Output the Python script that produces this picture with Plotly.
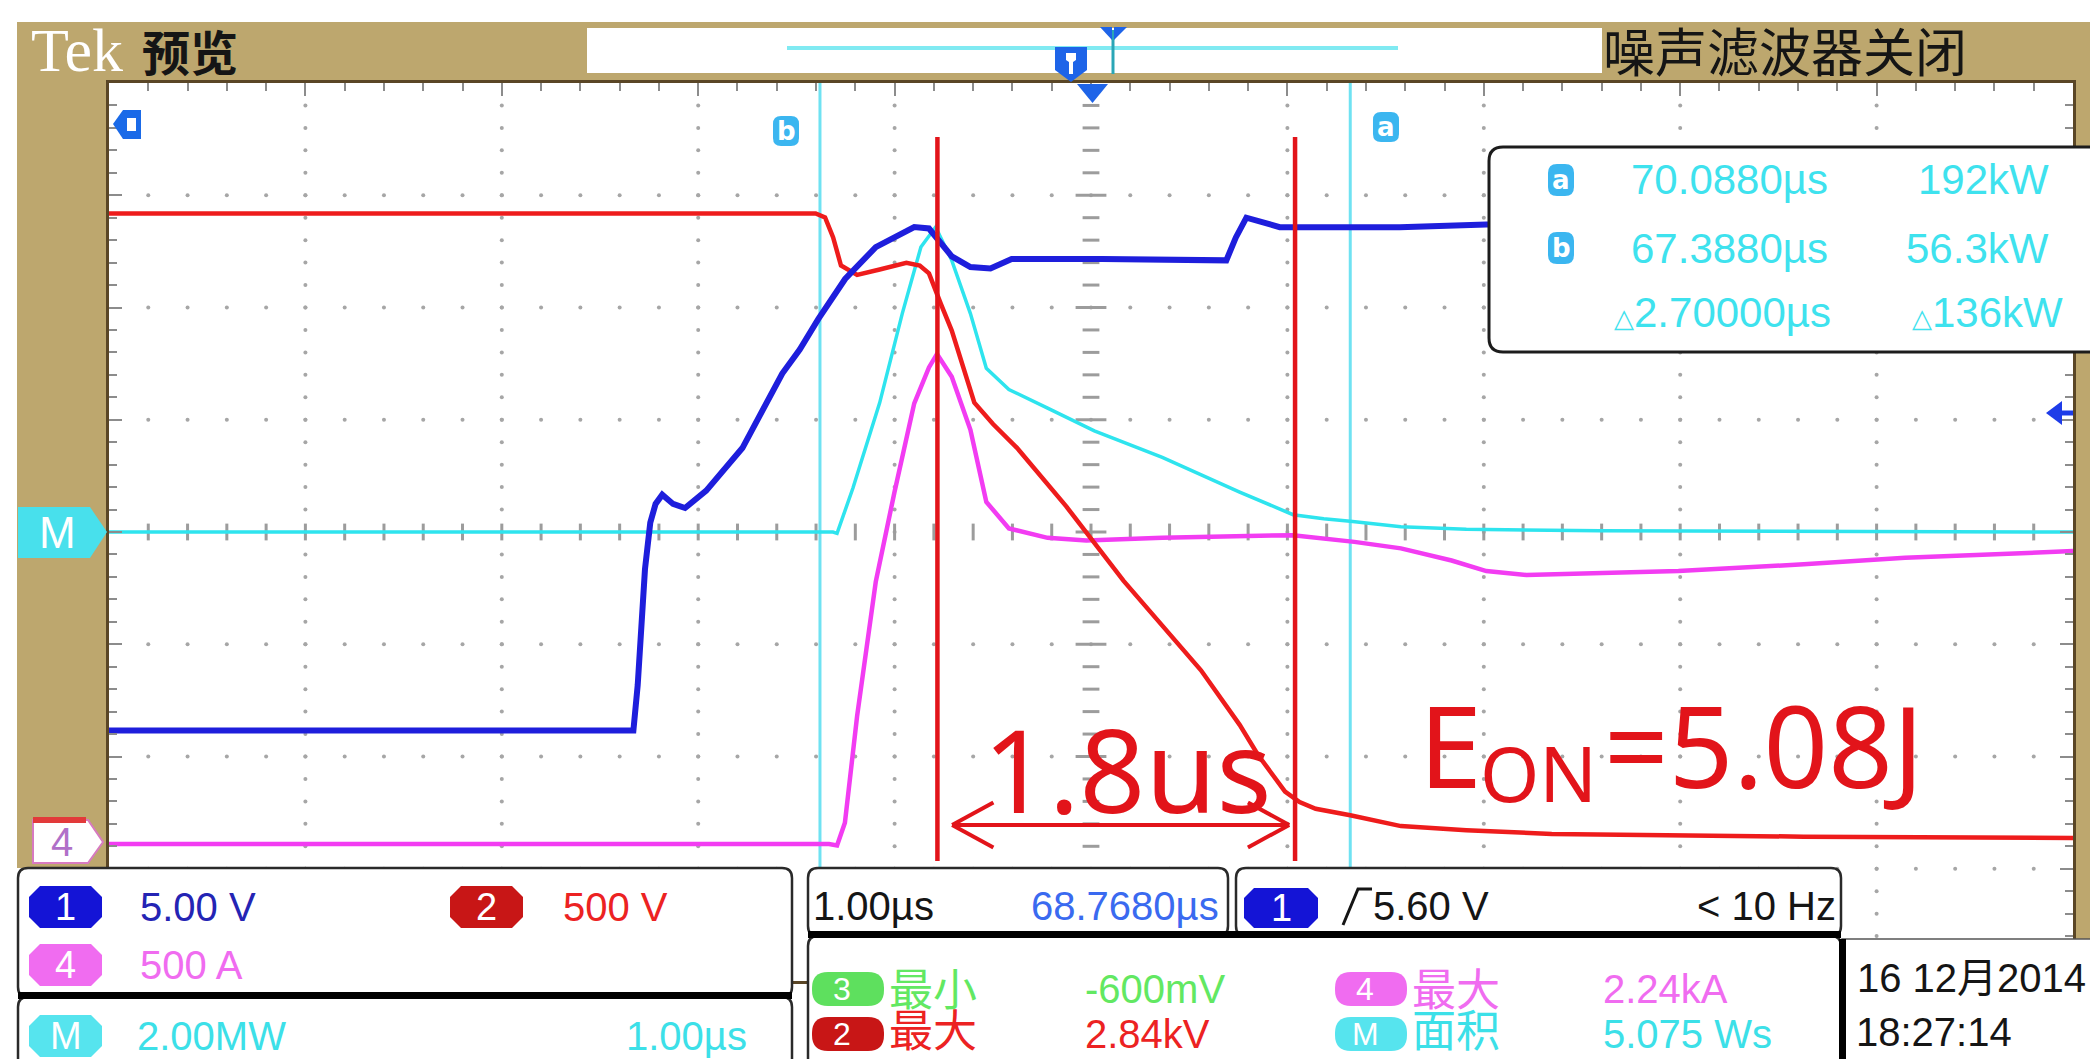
import plotly.graph_objects as go

h_position_us = 68.768      # horizontal position (screen centre)
time_per_div_us = 1.0
cursor_a_t = 70.088
cursor_b_t = 67.388

# CH1 gate voltage (V), 5 V/div
ch1_t = [63.768, 66.402, 66.438, 66.460, 66.477, 66.497, 66.524, 66.551, 66.585, 66.640,
         66.701, 66.809, 66.993, 67.196, 67.285, 67.380, 67.516, 67.672, 67.868, 67.943,
         68.059, 68.154, 68.256, 68.364, 68.826, 69.457, 69.505, 69.559, 69.729, 70.340,
         70.781, 73.768]
ch1_v = [-8.84, -8.84, -8.84, -6.82, -4.74, -1.66, 0.42, 1.25, 1.66, 1.25,
         1.07, 1.84, 3.74, 7.06, 8.13, 9.49, 11.27, 12.69, 13.58, 13.52,
         12.28, 11.80, 11.74, 12.16, 12.16, 12.10, 13.11, 14.00, 13.58, 13.58,
         13.70, 13.70]

# CH2 collector-emitter voltage (V), 500 V/div
ch2_t = [63.768, 67.366, 67.414, 67.455, 67.495, 67.577, 67.692, 67.828, 67.896, 67.943,
         68.004, 68.059, 68.174, 68.269, 68.391, 68.642, 68.934, 69.131, 69.328, 69.525,
         69.620, 69.756, 69.830, 69.912, 70.088, 70.346, 70.679, 71.114, 72.397, 73.768]
ch2_v = [2794, 2794, 2776, 2687, 2562, 2520, 2544, 2574, 2562, 2527,
         2390, 2272, 1951, 1856, 1750, 1489, 1157, 955, 759, 516,
         380, 219, 172, 142, 113, 65, 47, 30, 18, 12]

# CH4 collector current (A), 500 A/div
ch4_t = [63.768, 67.434, 67.475, 67.515, 67.577, 67.672, 67.767, 67.868, 67.943, 67.984,
         68.059, 68.154, 68.235, 68.350, 68.547, 68.744, 69.131, 69.797, 70.109, 70.346,
         70.604, 70.781, 70.985, 71.759, 72.397, 72.913, 73.768]
ch4_a = [0, 0, -6, 95, 569, 1168, 1566, 1963, 2123, 2183,
         2082, 1845, 1524, 1406, 1364, 1352, 1364, 1376, 1346, 1317,
         1263, 1216, 1198, 1216, 1246, 1275, 1305]

# M = CH2 x CH4 power (kW), 2.00 MW/div
m_t = [63.768, 67.454, 67.475, 67.556, 67.692, 67.807, 67.902, 67.964, 67.977, 68.059,
       68.154, 68.235, 68.350, 68.547, 68.785, 69.131, 69.525, 69.797, 69.953, 70.088,
       70.238, 70.346, 70.679, 71.358, 73.768]
m_kw = [0, 0, -24, 783, 2301, 3891, 5077, 5386, 5433, 4840,
        3891, 2918, 2539, 2206, 1803, 1329, 712, 308, 237, 192,
        142, 95, 47, 24, 0]

eon_window_t = [67.986, 69.807]   # red marker lines (1.8 us window)

# channel scales / ground positions (divisions from centre)
ch1_scale, ch1_gnd = 5.0, 0.0
ch2_scale, ch2_gnd = 500.0, -2.75
ch4_scale, ch4_gnd = 500.0, -2.78
m_scale, m_gnd = 2000.0, 0.0

# readout texts
readout_rows = [("a", "70.0880µs", "192kW"), ("b", "67.3880µs", "56.3kW"), ("", "2.70000µs", "136kW")]
ch_labels = [("1", "5.00 V"), ("2", "500 V"), ("4", "500 A"), ("M", "2.00MW")]
meas_rows = [("3", "最小", "-600mV", "4", "最大", "2.24kA"), ("2", "最大", "2.84kV", "M", "面积", "5.075 Ws")]

# ---------------- geometry ----------------
W, H = 2090, 1059
PL, PR, PT, PB = 109, 2073, 83, 981
t0 = h_position_us - 5 * time_per_div_us
t1 = h_position_us + 5 * time_per_div_us

TEK = "Liberation Sans, Arial, sans-serif"
CJK = "Noto Sans CJK SC, sans-serif"
TAN = "#BDA76E"
C_RED, C_BLUE, C_MAG, C_CYAN = "#EE1C1C", "#1E1EDC", "#F23CF2", "#2EE4EE"


def X(px):
    return (px - PL) / (PR - PL)


def Y(py):
    return 1 - (py - PT) / (PB - PT)


def pp(x, y):
    return f"{X(x):.5f},{Y(y):.5f}"


def poly(pts, close=True):
    s = "M" + " L".join(pp(x, y) for x, y in pts)
    return s + (" Z" if close else "")


def rrect(x0, y0, x1, y1, r):
    return (f"M{pp(x0 + r, y0)} L{pp(x1 - r, y0)} Q{pp(x1, y0)} {pp(x1, y0 + r)} L{pp(x1, y1 - r)} "
            f"Q{pp(x1, y1)} {pp(x1 - r, y1)} L{pp(x0 + r, y1)} Q{pp(x0, y1)} {pp(x0, y1 - r)} "
            f"L{pp(x0, y0 + r)} Q{pp(x0, y0)} {pp(x0 + r, y0)} Z")


def octa(x0, y0, x1, y1, c):
    return poly([(x0 + c, y0), (x1 - c, y0), (x1, y0 + c), (x1, y1 - c), (x1 - c, y1),
                 (x0 + c, y1), (x0, y1 - c), (x0, y0 + c)])


shapes, annots = [], []


def shp(path, fill=None, lc=None, lw=0, layer="above"):
    shapes.append(dict(type="path", xref="paper", yref="paper", path=path,
                       fillcolor=fill or "rgba(0,0,0,0)",
                       line=dict(color=lc or "rgba(0,0,0,0)", width=lw), layer=layer))


def rect(x0, y0, x1, y1, fill, lc=None, lw=0, layer="above"):
    shapes.append(dict(type="rect", xref="paper", yref="paper", x0=X(x0), x1=X(x1), y0=Y(y1), y1=Y(y0),
                       fillcolor=fill, line=dict(color=lc or "rgba(0,0,0,0)", width=lw), layer=layer))


def txt(px, py, text, size, color, family=TEK, anchor="left", weight="normal"):
    annots.append(dict(xref="paper", yref="paper", x=X(px), y=Y(py), text=text, showarrow=False,
                       xanchor=anchor, yanchor="middle", borderpad=0,
                       font=dict(family=family, size=size, color=color, weight=weight)))


fig = go.Figure()

# ---------------- graticule ----------------
gx, gy = [], []
for k in range(1, 10):
    if k == 5:
        continue
    for j in range(-19, 20):
        gx.append(t0 + k * time_per_div_us)
        gy.append(j * 0.2)
for k in range(-3, 4):
    if k == 0:
        continue
    for j in range(1, 50):
        gx.append(t0 + j * 0.2 * time_per_div_us)
        gy.append(k)
fig.add_trace(go.Scatter(x=gx, y=gy, mode="markers", hoverinfo="skip",
                         marker=dict(size=4, color="#A6A6A6", line=dict(width=0))))
# centre axis ticks
cvx, cvy, cvx2, cvy2 = [], [], [], []
for j in range(-19, 20):
    (cvx2 if j % 5 == 0 else cvx).append(h_position_us)
    (cvy2 if j % 5 == 0 else cvy).append(j * 0.2)
fig.add_trace(go.Scatter(x=cvx, y=cvy, mode="markers", hoverinfo="skip",
                         marker=dict(symbol="line-ew", size=12, line=dict(width=3, color="#9C9C9C"))))
fig.add_trace(go.Scatter(x=cvx2, y=cvy2, mode="markers", hoverinfo="skip",
                         marker=dict(symbol="line-ew", size=22, line=dict(width=3, color="#9C9C9C"))))
chx, chy = [], []
for j in range(1, 50):
    chx.append(t0 + j * 0.2 * time_per_div_us)
    chy.append(0)
fig.add_trace(go.Scatter(x=chx, y=chy, mode="markers", hoverinfo="skip",
                         marker=dict(symbol="line-ns", size=12, line=dict(width=3, color="#9C9C9C"))))

# cursors
for ct in (cursor_b_t, cursor_a_t):
    fig.add_trace(go.Scatter(x=[ct, ct], y=[-4, 4], mode="lines", hoverinfo="skip",
                             line=dict(color="#6FE2F2", width=3)))

# ---------------- waveforms ----------------
def to_div(vals, scale, gnd):
    return [v / scale + gnd for v in vals]


fig.add_trace(go.Scatter(x=ch4_t, y=to_div(ch4_a, ch4_scale, ch4_gnd), mode="lines", name="CH4",
                         line=dict(color=C_MAG, width=4.5)))
fig.add_trace(go.Scatter(x=m_t, y=to_div(m_kw, m_scale, m_gnd), mode="lines", name="M",
                         line=dict(color=C_CYAN, width=3.5)))
fig.add_trace(go.Scatter(x=ch2_t, y=to_div(ch2_v, ch2_scale, ch2_gnd), mode="lines", name="CH2",
                         line=dict(color=C_RED, width=4.5)))
fig.add_trace(go.Scatter(x=ch1_t, y=to_div(ch1_v, ch1_scale, ch1_gnd), mode="lines", name="CH1",
                         line=dict(color=C_BLUE, width=6)))

# red E_on window markers and arrow
RED2 = "#E2141A"
for et in eon_window_t:
    shapes.append(dict(type="line", xref="x", yref="y", x0=et, x1=et, y0=-2.93, y1=3.52,
                       line=dict(color=RED2, width=4.5), layer="above"))
ay = -2.61
axl, axr = eon_window_t[0] + 0.075, eon_window_t[1] - 0.03
shapes.append(dict(type="line", xref="x", yref="y", x0=axl, x1=axr, y0=ay, y1=ay,
                   line=dict(color=RED2, width=4), layer="above"))
for tip, d in ((axl, 1), (axr, -1)):
    for s in (1, -1):
        shapes.append(dict(type="line", xref="x", yref="y", x0=tip, x1=tip + d * 0.21,
                           y0=ay, y1=ay + s * 0.2, line=dict(color=RED2, width=4), layer="above"))

# ---------------- frame / bezel ----------------
rect(17, 22, 2090, 81.5, TAN, layer="below")
rect(17, 22, 107.5, 868, TAN, layer="below")
rect(2074.5, 22, 2090, 940, TAN, layer="below")
rect(587, 28, 1602, 73, "white", layer="below")
shapes.append(dict(type="line", xref="paper", yref="paper", x0=X(787), x1=X(1398), y0=Y(48), y1=Y(48),
                   line=dict(color="#80EAF2", width=4), layer="above"))
# trigger markers at the top
shp(poly([(1055, 47), (1087, 47), (1087, 70), (1071, 82), (1055, 70)]), fill="#1E64E8")
shp(poly([(1066, 53), (1076, 53), (1076, 60), (1073, 62), (1073, 74), (1069, 74), (1069, 62), (1066, 60)]), fill="white")
shapes.append(dict(type="line", xref="paper", yref="paper", x0=X(1113), x1=X(1113), y0=Y(30), y1=Y(74),
                   line=dict(color="#2AA6B6", width=3), layer="above"))
shp(poly([(1100, 27), (1112, 27), (1112, 40)]), fill="#1E64E8")
shp(poly([(1114, 27), (1127, 27), (1114, 40)]), fill="#1E64E8")
shp(poly([(1077, 84), (1108, 84), (1092.5, 103)]), fill="#1E64E8")
# indicator top-left
shp(poly([(113, 124), (123, 110), (141, 110), (141, 139), (123, 139)]), fill="#1A6AE8")
shp(poly([(127, 118), (136, 118), (136, 131), (127, 131)]), fill="white")
# trigger level arrow (right)
shp(poly([(2046, 413), (2062, 401), (2062, 425)]), fill="#1E3CE8")
shapes.append(dict(type="line", xref="paper", yref="paper", x0=X(2058), x1=X(2073), y0=Y(413), y1=Y(413),
                   line=dict(color="#1E3CE8", width=5), layer="above"))
# M and 4 ground markers
shp(poly([(18, 507), (90, 507), (107, 532), (90, 558), (18, 558)]), fill="#48E0EC")
txt(57, 532, "M", 44, "white", anchor="center")
shp(poly([(33, 820), (88, 820), (103, 842), (88, 863), (33, 863)]), fill="white", lc="#D77AC0", lw=2)
rect(33, 817, 86, 823, "#E23A3A")
txt(62, 842, "4", 40, "#B070C8", anchor="center")

# cursor badges on graticule
for cx, cy, lab in ((786, 131, "b"), (1386, 127, "a")):
    shp(rrect(cx - 13, cy - 15, cx + 13, cy + 15, 8), fill="#3BB6F0")
    txt(cx, cy, f"<b>{lab}</b>", 26, "white", family="DejaVu Sans", anchor="center")

# top texts
txt(77, 50, "Tek", 62, "white", family="Liberation Serif", anchor="center")
txt(190, 50, "预览", 48, "#151515", family=CJK, anchor="center", weight="bold")
txt(1785, 50, "噪声滤波器关闭", 52, "#151515", family=CJK, anchor="center")

# cursor readout box
shp(rrect(1489, 147, 2120, 352, 14), fill="white", lc="#1C1C1C", lw=3)
RC = "#3EE2EE"
DELTA = "<span style='font-size:26px'>△</span>"
for i, (lab, tval, pval) in enumerate(readout_rows):
    ry = [180, 248, 312][i]
    if lab:
        shp(rrect(1548, ry - 16, 1574, ry + 16, 9), fill="#3BB6F0")
        txt(1561, ry, f"<b>{lab}</b>", 26, "white", family="DejaVu Sans", anchor="center")
        txt(1630, ry, tval, 42, RC)
        txt(2050, ry, pval, 42, RC, anchor="right")
    else:
        txt(1613, ry, DELTA + tval, 42, RC)
        txt(2064, ry, DELTA + pval, 42, RC, anchor="right")

# E_on annotation texts
txt(1127, 768, "1.8us", 115, RED2, family="Noto Sans", anchor="center")
txt(1418, 744, "E", 113, RED2, family="Noto Sans")
txt(1479, 772, "ON", 76, RED2, family="Noto Sans")
txt(1603, 744, "=5.08J", 113, RED2, family="Noto Sans")

# ---------------- bottom readout panels ----------------
PLINE = "#2A2A2A"
shp(rrect(18, 868, 792, 997, 10), fill="white", lc=PLINE, lw=2.5)
shp(rrect(18, 997, 792, 1090, 10), fill="white", lc=PLINE, lw=2.5)
rect(18, 992, 792, 999, "black")
shp(rrect(808, 868, 1228, 936, 10), fill="white", lc=PLINE, lw=2.5)
shp(rrect(1236, 868, 1841, 936, 10), fill="white", lc=PLINE, lw=2.5)
shp(rrect(808, 936, 1841, 1090, 10), fill="white", lc=PLINE, lw=2.5)
rect(808, 931, 1841, 938, "black")
rect(1842, 939, 2100, 1090, "white", lc="#555555", lw=1.5)
rect(1839, 939, 1846, 1090, "black")

BADGE = {"1": "#1414D6", "2": "#C81616", "4": "#F06CF0", "M": "#56E4EE", "3": "#5EE05E"}
TXTC = {"1": "#2424B4", "2": "#EC2222", "4": "#F06CF0", "M": "#3CE0E8", "3": "#62E862"}
pos_a = {"1": (29, 907, 139), "2": (450, 907, 562), "4": (29, 965, 139), "M": (29, 1036, 136)}
for lab, val in ch_labels:
    bx, by, tx = pos_a[lab]
    shp(octa(bx, by - 21, bx + 73, by + 21, 11), fill=BADGE[lab])
    txt(bx + 36.5, by, lab, 38, "white", anchor="center")
    txt(tx, by, val, 40, TXTC[lab])
txt(748, 1036, "1.00µs", 40, TXTC["M"], anchor="right")

# timebase panel
txt(812, 906, "1.00µs", 40, "#151515")
txt(1220, 906, "68.7680µs", 40, "#3A6AF0", anchor="right")
# trigger panel
shp(octa(1244, 888, 1318, 928, 10), fill=BADGE["1"])
txt(1281, 908, "1", 38, "white", anchor="center")
shp(poly([(1343, 925), (1358, 889), (1372, 889)], close=False), lc="#151515", lw=3)
txt(1372, 906, "5.60 V", 40, "#151515")
txt(1837, 906, "< 10 Hz", 40, "#151515", anchor="right")

# measurement panel
for i, row in enumerate(meas_rows):
    ry = [989, 1034][i]
    cjk_dy = [-2, -6][i]
    b1, n1, v1, b2, n2, v2 = row
    for bx, b, n, v, tx in ((812, b1, n1, v1, 1084), (1335, b2, n2, v2, 1602)):
        shp(rrect(bx, ry - 17, bx + 72, ry + 17, 16), fill=BADGE[b])
        txt(bx + 30, ry, b, 32, "white", anchor="center")
        txt(bx + 76, ry + cjk_dy, n, 44, TXTC[b], family=CJK)
        txt(tx, ry, v, 40, TXTC[b])

# date panel
txt(1856, 978, "16 12月2014", 40, "#151515", family=TEK + ", " + CJK)
txt(1855, 1032, "18:27:14", 40, "#151515")

fig.update_layout(
    width=W, height=H, autosize=False,
    margin=dict(l=PL, r=W - PR, t=PT, b=H - PB, pad=0),
    paper_bgcolor="white", plot_bgcolor="white", showlegend=False,
    shapes=shapes, annotations=annots,
)
fig.update_xaxes(range=[t0, t1], showgrid=False, zeroline=False, showticklabels=False,
                 ticks="inside", tick0=t0, dtick=time_per_div_us, ticklen=13, tickwidth=2,
                 tickcolor="#8C8C8C", minor=dict(ticks="inside", dtick=0.2 * time_per_div_us, tick0=t0,
                                                 ticklen=8, tickwidth=2, tickcolor="#8C8C8C", showgrid=False),
                 showline=True, linecolor="#5A4626", linewidth=3, mirror="ticks", side="top",
                 fixedrange=True)
fig.update_yaxes(range=[-4, 4], showgrid=False, zeroline=False, showticklabels=False,
                 ticks="inside", tick0=-4, dtick=1, ticklen=13, tickwidth=2, tickcolor="#8C8C8C",
                 minor=dict(ticks="inside", dtick=0.2, tick0=-4, ticklen=8, tickwidth=2,
                            tickcolor="#8C8C8C", showgrid=False),
                 showline=True, linecolor="#5A4626", linewidth=3, mirror="ticks", fixedrange=True)

fig.write_html("out.html", config={"displayModeBar": False},
               post_script="document.body.style.margin='0';document.body.style.overflow='hidden';")
